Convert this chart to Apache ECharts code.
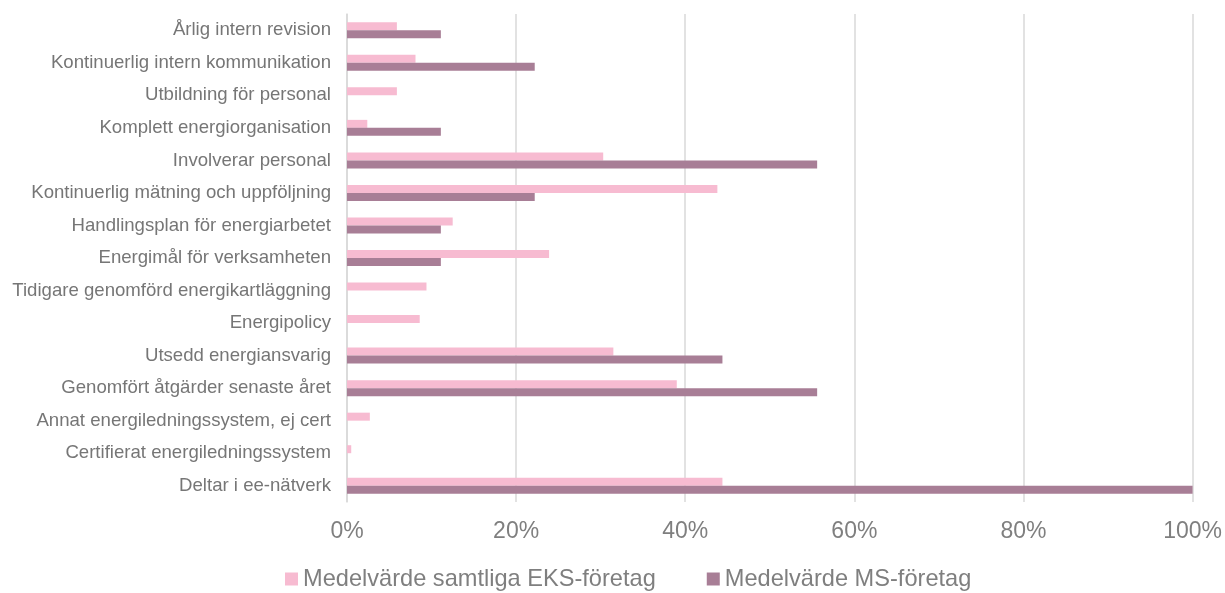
<!DOCTYPE html>
<html><head><meta charset="utf-8">
<script src="https://cdn.jsdelivr.net/npm/echarts@6/dist/echarts.min.js"></script>
<style>html,body{margin:0;padding:0;background:#fff}#c{width:1225px;height:593px}</style>
</head><body><div id="c"></div>
<script>
const categories = [
  "Deltar i ee-nätverk",
  "Certifierat energiledningssystem",
  "Annat energiledningssystem, ej cert",
  "Genomfört åtgärder senaste året",
  "Utsedd energiansvarig",
  "Energipolicy",
  "Tidigare genomförd energikartläggning",
  "Energimål för verksamheten",
  "Handlingsplan för energiarbetet",
  "Kontinuerlig mätning och uppföljning",
  "Involverar personal",
  "Komplett energiorganisation",
  "Utbildning för personal",
  "Kontinuerlig intern kommunikation",
  "Årlig intern revision"
];
const eksValues = [0.444, 0.005, 0.027, 0.390, 0.315, 0.086, 0.094, 0.239, 0.125, 0.438, 0.303, 0.024, 0.059, 0.081, 0.059];
const msValues  = [1.000, 0, 0, 0.556, 0.444, 0, 0, 0.111, 0.111, 0.222, 0.556, 0.111, 0, 0.222, 0.111];
const seriesNames = ["Medelvärde samtliga EKS-företag", "Medelvärde MS-företag"];
const xTicks = [0, 0.2, 0.4, 0.6, 0.8, 1.0];

const chart = echarts.init(document.getElementById('c'));
const font = "'Liberation Sans', Arial, sans-serif";
chart.setOption({
  animation: false,
  textStyle: {fontFamily: font},
  grid: {left: 347, right: 30, top: 14, bottom: 91, containLabel: false},
  legend: {
    left: 280, top: 562, itemWidth: 13, itemHeight: 13, itemGap: 51, icon: 'rect',
    textStyle: {fontSize: 23.6, color: '#7f7f7f', fontFamily: font},
    data: seriesNames
  },
  xAxis: {
    type: 'value', min: 0, max: 1, interval: 0.2,
    axisLine: {show: false}, axisTick: {show: false},
    splitLine: {lineStyle: {color: '#d9d9d9', width: 1.5}},
    axisLabel: {fontSize: 23, color: '#7f7f7f', margin: 18,
      formatter: v => Math.round(v * 100) + '%'}
  },
  yAxis: {
    type: 'category', data: categories,
    axisLine: {show: true, lineStyle: {color: '#d9d9d9', width: 1.5}},
    axisTick: {show: false},
    axisLabel: {fontSize: 18.6, color: '#767676', margin: 16}
  },
  series: [
    {name: seriesNames[0], type: 'bar', data: eksValues, barWidth: 8, barGap: '0%',
     itemStyle: {color: '#F7BBD1'}},
    {name: seriesNames[1], type: 'bar', data: msValues, barWidth: 8, barGap: '0%',
     itemStyle: {color: '#A87E96'}}
  ]
});
</script></body></html>
